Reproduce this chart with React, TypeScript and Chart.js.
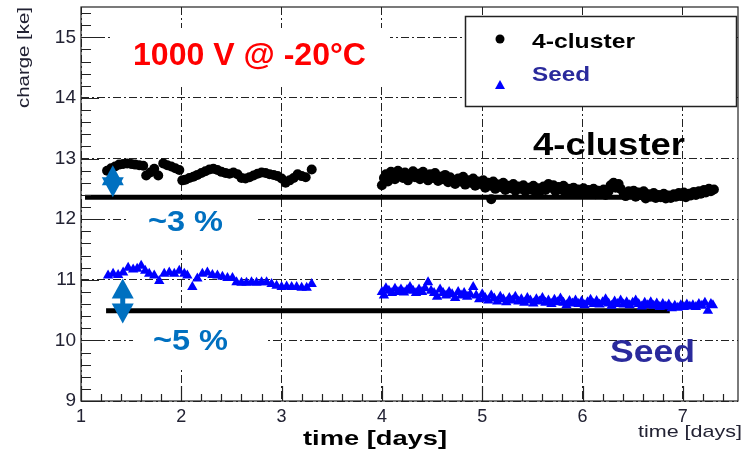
import React, { useEffect, useRef } from "react";
import { Chart, registerables } from "chart.js";

Chart.register(...registerables);

// ---------- axis ranges and tick labels ----------
const X_MIN = 1;
const X_MAX = 7.55;
const Y_MIN = 9;
const Y_MAX = 15.5;
const xTickValues = [1, 2, 3, 4, 5, 6, 7];
const yTickValues = [9, 10, 11, 12, 13, 14, 15];

// ---------- 4-cluster series ----------
const clusterDays = [
  1.26, 1.30, 1.34, 1.38, 1.42, 1.46, 1.50, 1.54, 1.58, 1.62, 1.65, 1.69, 1.73, 1.77, 1.82, 1.86, 1.90, 1.94, 1.98,
  2.01, 2.04, 2.08, 2.12, 2.16, 2.20, 2.24, 2.28, 2.32, 2.36, 2.40, 2.44, 2.48, 2.52, 2.56, 2.60, 2.64, 2.68, 2.72,
  2.76, 2.80, 2.84, 2.88, 2.92, 2.96, 3.00, 3.04, 3.08, 3.12, 3.16, 3.20, 3.24, 3.30,
  4.00, 4.02, 4.04, 4.06, 4.09, 4.11, 4.13, 4.16, 4.18, 4.21, 4.23, 4.26, 4.28, 4.31, 4.33, 4.36, 4.38, 4.41, 4.43,
  4.46, 4.48, 4.51, 4.53, 4.56, 4.58, 4.61, 4.63, 4.66, 4.68, 4.71, 4.73, 4.76, 4.78, 4.81, 4.83, 4.86, 4.88, 4.91,
  4.93, 4.96, 4.98, 5.01, 5.03, 5.06, 5.08, 5.09, 5.11, 5.13, 5.16, 5.18, 5.21, 5.23, 5.26, 5.28, 5.31, 5.33, 5.36,
  5.38, 5.41, 5.43, 5.46, 5.48, 5.51, 5.53, 5.56, 5.58, 5.61, 5.63, 5.66, 5.68, 5.71, 5.73, 5.76, 5.78, 5.81, 5.83,
  5.86, 5.88, 5.91, 5.93, 5.96, 5.98, 6.01, 6.03, 6.06, 6.08, 6.11, 6.13, 6.16, 6.18, 6.21, 6.23, 6.26, 6.28, 6.31,
  6.33, 6.36, 6.38, 6.41, 6.43, 6.46, 6.48, 6.51, 6.53, 6.56, 6.58, 6.61, 6.63, 6.66, 6.68, 6.71, 6.73, 6.76, 6.78,
  6.81, 6.83, 6.86, 6.88, 6.91, 6.93, 6.96, 6.98, 7.01, 7.03, 7.06, 7.08, 7.11, 7.13, 7.16, 7.18, 7.21, 7.23, 7.26,
  7.28, 7.31,
];
const clusterCharge = [
  12.80, 12.84, 12.87, 12.90, 12.91, 12.92, 12.91, 12.90, 12.89, 12.88, 12.72, 12.77, 12.83, 12.72, 12.92, 12.89, 12.87, 12.84, 12.81,
  12.64, 12.65, 12.68, 12.70, 12.73, 12.76, 12.79, 12.82, 12.83, 12.81, 12.78, 12.76, 12.75, 12.77, 12.74, 12.68, 12.67, 12.69, 12.72,
  12.75, 12.77, 12.76, 12.74, 12.73, 12.71, 12.67, 12.60, 12.64, 12.68, 12.74, 12.71, 12.69, 12.82,
  12.56, 12.68, 12.74, 12.62, 12.78, 12.70, 12.66, 12.80, 12.72, 12.68, 12.77, 12.64, 12.73, 12.79, 12.69, 12.75, 12.66, 12.78, 12.71,
  12.64, 12.74, 12.68, 12.76, 12.63, 12.70, 12.66, 12.73, 12.61, 12.69, 12.64, 12.58, 12.67, 12.62, 12.70, 12.57, 12.64, 12.60, 12.67,
  12.55, 12.62, 12.58, 12.64, 12.52, 12.60, 12.55, 12.33, 12.62, 12.50, 12.57, 12.53, 12.60, 12.48, 12.55, 12.51, 12.58, 12.47, 12.54,
  12.50, 12.56, 12.46, 12.52, 12.49, 12.55, 12.45, 12.51, 12.47, 12.54, 12.48, 12.58, 12.52, 12.56, 12.46, 12.53, 12.49, 12.55, 12.44,
  12.50, 12.46, 12.52, 12.43, 12.49, 12.45, 12.51, 12.42, 12.48, 12.44, 12.50, 12.41, 12.47, 12.43, 12.49, 12.40, 12.46, 12.56, 12.60,
  12.52, 12.58, 12.50, 12.43, 12.38, 12.46, 12.41, 12.47, 12.37, 12.44, 12.40, 12.46, 12.34, 12.41, 12.37, 12.43, 12.35, 12.40, 12.36,
  12.42, 12.34, 12.39, 12.35, 12.41, 12.37, 12.43, 12.38, 12.44, 12.36, 12.42, 12.39, 12.45, 12.40, 12.46, 12.42, 12.48, 12.44, 12.50,
  12.46, 12.49,
];

// ---------- Seed series ----------
const seedDays = [
  1.27, 1.32, 1.37, 1.42, 1.47, 1.52, 1.56, 1.60, 1.64, 1.68, 1.73, 1.78, 1.83, 1.88, 1.93, 1.98, 2.03, 2.06, 2.11,
  2.16, 2.21, 2.26, 2.31, 2.36, 2.41, 2.46, 2.51, 2.55, 2.60, 2.65, 2.70, 2.75, 2.80, 2.85, 2.90, 2.95, 3.00, 3.05,
  3.10, 3.15, 3.20, 3.25, 3.30,
  4.00, 4.02, 4.04, 4.07, 4.10, 4.13, 4.16, 4.19, 4.22, 4.25, 4.28, 4.31, 4.34, 4.37, 4.40, 4.43, 4.46, 4.49, 4.52,
  4.55, 4.58, 4.61, 4.64, 4.67, 4.70, 4.73, 4.76, 4.79, 4.82, 4.85, 4.88, 4.91, 4.94, 4.97, 5.00, 5.03, 5.06, 5.09,
  5.12, 5.15, 5.18, 5.21, 5.24, 5.27, 5.30, 5.33, 5.36, 5.39, 5.42, 5.45, 5.48, 5.51, 5.54, 5.57, 5.60, 5.63, 5.66,
  5.69, 5.72, 5.75, 5.78, 5.81, 5.84, 5.87, 5.90, 5.93, 5.96, 5.99, 6.02, 6.05, 6.08, 6.11, 6.14, 6.17, 6.20, 6.23,
  6.26, 6.29, 6.32, 6.35, 6.38, 6.41, 6.44, 6.47, 6.50, 6.53, 6.56, 6.59, 6.62, 6.65, 6.68, 6.71, 6.74, 6.77, 6.80,
  6.83, 6.86, 6.89, 6.92, 6.95, 6.98, 7.01, 7.04, 7.07, 7.10, 7.13, 7.16, 7.19, 7.22, 7.25, 7.28, 7.30,
];
const seedCharge = [
  11.07, 11.10, 11.08, 11.12, 11.20, 11.17, 11.18, 11.23, 11.15, 11.10, 11.07, 10.98, 11.10, 11.12, 11.10, 11.15, 11.10, 11.07, 10.88,
  11.02, 11.10, 11.12, 11.08, 11.07, 11.05, 11.03, 11.03, 10.96, 10.95, 10.95, 10.96, 10.95, 10.96, 10.96, 10.93, 10.90, 10.88, 10.89,
  10.88, 10.88, 10.87, 10.87, 10.93,
  10.80, 10.74, 10.86, 10.82, 10.78, 10.85, 10.80, 10.84, 10.79, 10.83, 10.88, 10.82, 10.78, 10.84, 10.80, 10.86, 10.96, 10.82, 10.78,
  10.72, 10.84, 10.78, 10.74, 10.80, 10.76, 10.70, 10.80, 10.74, 10.78, 10.72, 10.76, 10.88, 10.74, 10.68, 10.76, 10.70, 10.66, 10.74,
  10.69, 10.64, 10.72, 10.68, 10.63, 10.70, 10.66, 10.72, 10.64, 10.68, 10.62, 10.70, 10.66, 10.61, 10.68, 10.64, 10.70, 10.62, 10.66,
  10.60, 10.67, 10.63, 10.69, 10.62, 10.58, 10.65, 10.61, 10.66, 10.60, 10.64, 10.58, 10.63, 10.67, 10.60, 10.65, 10.59, 10.63, 10.68,
  10.61, 10.57, 10.64, 10.60, 10.66, 10.59, 10.63, 10.58, 10.62, 10.66, 10.60, 10.56, 10.62, 10.58, 10.63, 10.57, 10.61, 10.55, 10.60,
  10.56, 10.59, 10.53, 10.57, 10.54, 10.58, 10.55, 10.59, 10.56, 10.58, 10.55, 10.60, 10.57, 10.62, 10.49, 10.60, 10.58,
];

// ---------- reference lines and arrows (data units) ----------
const refClusterDays = [1.04, 6.67];
const refClusterCharge = [12.36, 12.36];
const refSeedDays = [1.25, 6.87];
const refSeedCharge = [10.49, 10.49];
const arrowDays = [1.317, 1.416];
const arrowLow = [12.36, 10.28];
const arrowHigh = [12.89, 11.02];

const FONT = '"Liberation Sans", Arial, Helvetica, sans-serif';

const toPoints = (xs: number[], ys: number[]) => xs.map((x, i) => ({ x, y: ys[i] }));

function fitText(
  ctx: CanvasRenderingContext2D,
  text: string,
  x: number,
  y: number,
  size: number,
  weight: string,
  color: string,
  width: number,
  rotate = false
) {
  ctx.save();
  ctx.font = `${weight} ${size}px ${FONT}`;
  const w = ctx.measureText(text).width;
  ctx.translate(x, y);
  if (rotate) ctx.rotate(-Math.PI / 2);
  ctx.scale(width / w, 1);
  ctx.fillStyle = color;
  ctx.textAlign = "left";
  ctx.textBaseline = "alphabetic";
  ctx.fillText(text, 0, 0);
  ctx.restore();
}

function drawDoubleArrow(ctx: CanvasRenderingContext2D, x: number, yTop: number, yBot: number) {
  const headLen = Math.min(20, (yBot - yTop) * 0.75);
  const headW = 11;
  ctx.save();
  ctx.fillStyle = "#0070C0";
  ctx.strokeStyle = "#0070C0";
  ctx.lineWidth = 5;
  ctx.beginPath();
  ctx.moveTo(x, yTop + headLen * 0.5);
  ctx.lineTo(x, yBot - headLen * 0.5);
  ctx.stroke();
  ctx.beginPath();
  ctx.moveTo(x, yTop);
  ctx.lineTo(x - headW, yTop + headLen);
  ctx.lineTo(x + headW, yTop + headLen);
  ctx.closePath();
  ctx.fill();
  ctx.beginPath();
  ctx.moveTo(x, yBot);
  ctx.lineTo(x - headW, yBot - headLen);
  ctx.lineTo(x + headW, yBot - headLen);
  ctx.closePath();
  ctx.fill();
  ctx.restore();
}

const overlayPlugin = {
  id: "overlayPlugin",
  beforeDatasetsDraw(chart: any) {
    const ctx: CanvasRenderingContext2D = chart.ctx;
    ctx.save();
    ctx.fillStyle = "#ffffff";
    // white text panes (hide the grid under the annotation texts)
    ctx.fillRect(112, 28, 278, 56);
    ctx.fillRect(128, 200, 130, 50);
    ctx.fillRect(133, 313, 132, 55);
    ctx.restore();
  },
  afterDatasetsDraw(chart: any) {
    const ctx: CanvasRenderingContext2D = chart.ctx;
    const xs = chart.scales.x;
    const ys = chart.scales.y;
    const area = chart.chartArea;

    // arrows
    arrowDays.forEach((d, i) => {
      drawDoubleArrow(ctx, xs.getPixelForValue(d), ys.getPixelForValue(arrowHigh[i]), ys.getPixelForValue(arrowLow[i]));
    });

    // frame
    ctx.save();
    ctx.strokeStyle = "#222";
    ctx.lineWidth = 1.2;
    ctx.strokeRect(area.left, area.top, area.right - area.left, area.bottom - area.top);

    // inward ticks
    ctx.lineWidth = 1.2;
    ctx.beginPath();
    for (let k = 0; k <= Math.round((Y_MAX - Y_MIN) / 0.2); k++) {
      const v = Y_MIN + k * 0.2;
      if (v > Y_MAX - 0.01) break;
      const major = Math.abs(v - Math.round(v)) < 1e-6;
      const py = Math.round(ys.getPixelForValue(v)) + 0.5;
      ctx.moveTo(area.left, py);
      ctx.lineTo(area.left + (major ? 18 : 10), py);
    }
    for (let k = 0; k <= Math.round((X_MAX - X_MIN) / 0.2); k++) {
      const v = X_MIN + k * 0.2;
      if (v > X_MAX - 0.01) break;
      const major = Math.abs(v - Math.round(v)) < 1e-6;
      const px = Math.round(xs.getPixelForValue(v)) + 0.5;
      ctx.moveTo(px, area.bottom);
      ctx.lineTo(px, area.bottom - (major ? 15 : 7));
    }
    ctx.stroke();
    ctx.restore();
  },
  afterDraw(chart: any) {
    const ctx: CanvasRenderingContext2D = chart.ctx;

    // axis titles
    fitText(ctx, "charge [ke]", 29, 108, 17, "normal", "#222233", 101, true);
    fitText(ctx, "time [days]", 638, 437, 17, "normal", "#222233", 104);
    fitText(ctx, "time [days]", 303, 445, 21, "bold", "#000000", 144);

    // annotations
    fitText(ctx, "1000 V @ -20°C", 133, 65, 32, "bold", "#ff0000", 233);
    fitText(ctx, "~3 %", 148, 231, 30, "bold", "#0070C0", 75);
    fitText(ctx, "~5 %", 153, 350, 30, "bold", "#0070C0", 75);
    fitText(ctx, "4-cluster", 533, 155, 32, "bold", "#000000", 152);
    fitText(ctx, "Seed", 610, 362, 32, "bold", "#2a2a9c", 85);

    // legend
    ctx.save();
    ctx.fillStyle = "#ffffff";
    ctx.fillRect(465, 16, 272, 91);
    ctx.strokeStyle = "#222";
    ctx.lineWidth = 1.5;
    ctx.strokeRect(465.5, 16.5, 271, 90);
    ctx.fillStyle = "#000";
    ctx.beginPath();
    ctx.arc(500, 39, 4.5, 0, Math.PI * 2);
    ctx.fill();
    ctx.fillStyle = "#0000ff";
    ctx.beginPath();
    ctx.moveTo(500, 80);
    ctx.lineTo(505, 89);
    ctx.lineTo(495, 89);
    ctx.closePath();
    ctx.fill();
    ctx.restore();
    fitText(ctx, "4-cluster", 532, 48, 20, "bold", "#000000", 103);
    fitText(ctx, "Seed", 532, 81, 20, "bold", "#2a2a9c", 58);
  },
};

export default function App() {
  const ref = useRef<HTMLCanvasElement>(null);
  useEffect(() => {
    document.body.style.margin = "0";
    const canvas = ref.current!;
    const chart = new Chart(canvas, {
      type: "scatter",
      data: {
        datasets: [
          {
            label: "4-cluster",
            data: toPoints(clusterDays, clusterCharge),
            pointStyle: "circle",
            pointRadius: 5,
            backgroundColor: "#000000",
            borderColor: "#000000",
            borderWidth: 0,
          },
          {
            label: "Seed",
            data: toPoints(seedDays, seedCharge),
            pointStyle: "triangle",
            pointRadius: 6,
            backgroundColor: "#0000ff",
            borderColor: "#0000ff",
            borderWidth: 0,
          },
          {
            label: "ref 4-cluster",
            data: toPoints(refClusterDays, refClusterCharge),
            showLine: true,
            borderColor: "#000000",
            borderWidth: 5,
            pointRadius: 0,
          },
          {
            label: "ref seed",
            data: toPoints(refSeedDays, refSeedCharge),
            showLine: true,
            borderColor: "#000000",
            borderWidth: 5,
            pointRadius: 0,
          },
        ],
      },
      options: {
        responsive: false,
        animation: false,
        devicePixelRatio: 1,
        layout: { padding: { top: 7, right: 2, left: 0, bottom: 0 } },
        plugins: { legend: { display: false }, tooltip: { enabled: false } },
        events: [],
        scales: {
          x: {
            type: "linear",
            min: X_MIN,
            max: X_MAX,
            afterBuildTicks: (s: any) => {
              s.ticks = xTickValues.map((v) => ({ value: v }));
            },
            afterFit: (s: any) => {
              s.height = 52;
              s.paddingLeft = 0;
              s.paddingRight = 0;
              s.paddingTop = 0;
              s.paddingBottom = 0;
            },
            ticks: {
              font: { family: FONT, size: 18 },
              color: "#222233",
              padding: 5,
              maxRotation: 0,
              autoSkip: false,
            },
            grid: { color: "#222", lineWidth: 1, drawTicks: false },
            border: { display: false, dash: [8, 3, 2, 3] },
          },
          y: {
            type: "linear",
            min: Y_MIN,
            max: Y_MAX,
            afterBuildTicks: (s: any) => {
              s.ticks = yTickValues.map((v) => ({ value: v }));
            },
            afterFit: (s: any) => {
              s.width = 81;
              s.paddingLeft = 0;
              s.paddingRight = 0;
              s.paddingTop = 0;
              s.paddingBottom = 0;
            },
            ticks: {
              font: { family: FONT, size: 19 },
              color: "#222233",
              padding: 5,
              autoSkip: false,
            },
            grid: { color: "#222", lineWidth: 1, drawTicks: false },
            border: { display: false, dash: [8, 3, 2, 3] },
          },
        },
      },
      plugins: [overlayPlugin],
    } as any);
    return () => chart.destroy();
  }, []);
  return (
    <div style={{ width: 744, height: 453, position: "relative" }}>
      <canvas ref={ref} width={744} height={453} style={{ display: "block" }} />
    </div>
  );
}
